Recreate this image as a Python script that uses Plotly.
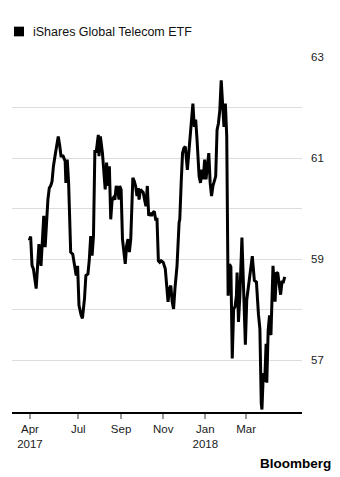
import plotly.graph_objects as go

series_name = "iShares Global Telecom ETF"

dates = [
    "2017-04-21", "2017-04-23", "2017-04-25", "2017-04-27", "2017-05-01", "2017-05-04",
    "2017-05-05", "2017-05-08", "2017-05-10", "2017-05-12", "2017-05-14", "2017-05-16",
    "2017-05-18", "2017-05-20", "2017-05-22", "2017-05-24", "2017-05-26", "2017-05-29",
    "2017-06-02", "2017-06-04", "2017-06-06", "2017-06-09", "2017-06-12", "2017-06-13",
    "2017-06-15", "2017-06-17", "2017-06-20", "2017-06-23", "2017-06-25", "2017-06-28",
    "2017-06-30", "2017-07-02", "2017-07-05", "2017-07-07", "2017-07-10", "2017-07-12",
    "2017-07-15", "2017-07-17", "2017-07-19", "2017-07-21", "2017-07-23", "2017-07-25",
    "2017-07-27", "2017-07-30", "2017-07-31", "2017-08-02", "2017-08-05", "2017-08-09",
    "2017-08-11", "2017-08-13", "2017-08-15", "2017-08-17", "2017-08-19", "2017-08-21",
    "2017-08-23", "2017-08-25", "2017-08-27", "2017-08-29", "2017-08-30", "2017-09-01",
    "2017-09-03", "2017-09-05", "2017-09-07", "2017-09-09", "2017-09-11", "2017-09-13",
    "2017-09-15", "2017-09-18", "2017-09-20", "2017-09-22", "2017-09-24", "2017-09-26",
    "2017-09-27", "2017-09-29", "2017-10-01", "2017-10-03", "2017-10-05", "2017-10-07",
    "2017-10-09", "2017-10-11", "2017-10-13", "2017-10-15", "2017-10-17", "2017-10-19",
    "2017-10-21", "2017-10-23", "2017-10-25", "2017-10-27", "2017-10-29", "2017-11-01",
    "2017-11-04", "2017-11-06", "2017-11-08", "2017-11-10", "2017-11-12", "2017-11-14",
    "2017-11-16", "2017-11-18", "2017-11-20", "2017-11-21", "2017-11-24", "2017-11-25",
    "2017-11-27", "2017-11-29", "2017-12-01", "2017-12-03", "2017-12-06", "2017-12-09",
    "2017-12-11", "2017-12-14", "2017-12-16", "2017-12-18", "2017-12-20", "2017-12-21",
    "2017-12-23", "2017-12-25", "2017-12-27", "2017-12-29", "2017-12-31", "2018-01-02",
    "2018-01-04", "2018-01-06", "2018-01-08", "2018-01-10", "2018-01-12", "2018-01-14",
    "2018-01-16", "2018-01-18", "2018-01-20", "2018-01-22", "2018-01-24", "2018-01-26",
    "2018-01-28", "2018-01-30", "2018-02-01", "2018-02-03", "2018-02-05", "2018-02-07",
    "2018-02-09", "2018-02-11", "2018-02-13", "2018-02-15", "2018-02-16", "2018-02-18",
    "2018-02-20", "2018-02-23", "2018-02-25", "2018-02-28", "2018-03-02", "2018-03-05",
    "2018-03-08", "2018-03-10", "2018-03-13", "2018-03-16", "2018-03-19", "2018-03-21",
    "2018-03-23", "2018-03-24", "2018-03-26", "2018-03-28", "2018-03-30", "2018-03-31",
    "2018-04-02", "2018-04-04", "2018-04-06", "2018-04-08", "2018-04-09", "2018-04-11",
    "2018-04-12", "2018-04-14", "2018-04-16", "2018-04-18", "2018-04-20", "2018-04-22",
    "2018-04-24", "2018-04-26",
]

prices = [
    59.37, 59.45, 58.88, 58.81, 58.42, 59.27,
    59.30, 58.87, 59.33, 59.86, 59.24, 59.86,
    60.18, 60.41, 60.45, 60.54, 60.84, 61.10,
    61.43, 61.26, 61.04, 61.04, 60.94, 60.51,
    60.97, 60.51, 59.14, 59.10, 58.94, 58.68,
    58.87, 58.09, 57.90, 57.83, 58.22, 58.68,
    58.71, 59.00, 59.46, 59.07, 59.46, 61.13,
    61.13, 61.46, 61.04, 61.43, 61.10, 60.38,
    60.91, 60.45, 60.84, 59.79, 60.18, 60.22,
    60.18, 60.45, 60.38, 60.18, 60.45, 60.38,
    59.40, 59.14, 58.91, 59.27, 59.40, 59.14,
    59.40, 60.61, 60.55, 60.45, 60.25, 60.41,
    60.18, 60.38, 60.35, 60.32, 60.18, 60.05,
    60.45, 59.86, 59.92, 59.86, 59.92, 59.95,
    59.79, 59.79, 58.97, 58.94, 58.97, 58.94,
    58.81, 58.48, 58.16, 58.42, 58.48, 58.16,
    58.02, 58.42, 58.81, 58.87, 59.73, 59.79,
    60.51, 61.10, 61.20, 61.23, 60.77, 61.25,
    61.55, 62.08, 61.62, 61.76, 61.36, 61.10,
    60.64, 60.51, 60.77, 60.58, 60.97, 60.58,
    60.84, 61.10, 60.51, 60.25, 60.45, 60.58,
    60.64, 61.56, 61.69, 61.95, 62.54, 62.08,
    61.62, 62.08, 61.43, 58.28, 58.90, 58.85,
    57.04, 58.02, 58.06, 58.28, 58.74, 57.76,
    58.28, 59.43, 58.35, 57.31, 58.20, 58.50,
    58.90, 59.06, 58.58, 58.55, 57.90, 57.63,
    56.15, 56.03, 56.75, 56.58, 57.33, 56.56,
    57.60, 57.89, 57.50, 58.60, 58.87, 58.40,
    58.16, 58.74, 58.72, 58.50, 58.30, 58.55,
    58.55, 58.65,
]

x_tick_vals = ["2017-04-22", "2017-07-01", "2017-09-01", "2017-11-01", "2018-01-01", "2018-03-01"]
x_tick_text = ["Apr<br>2017", "Jul", "Sep", "Nov", "Jan<br>2018", "Mar"]
y_tick_vals = [57, 58, 59, 60, 61, 62, 63]
y_tick_text = ["57", "", "59", "", "61", "", "63"]
x_range = ["2017-03-27", "2018-05-21"]
y_range = [55.98, 63.0]

FONT = "Liberation Sans, Arial, Helvetica, sans-serif"

fig = go.Figure()
fig.add_trace(go.Scatter(
    x=dates, y=prices, mode="lines", name=series_name,
    line=dict(color="#000000", width=3),
    hoverinfo="x+y",
))

# plot area geometry (pixels) used to place the legend and credit
L, R, T, B = 12, 38, 56.7, 64.7
W, H = 340, 477
pw, ph = W - L - R, H - T - B

def px_x(px):
    return (px - L) / pw

def px_y(py):
    return (H - B - py) / ph

fig.add_shape(type="rect", xref="paper", yref="paper",
              x0=px_x(14), x1=px_x(24), y0=px_y(36), y1=px_y(26.3),
              fillcolor="#000000", line=dict(width=0))
fig.add_annotation(xref="paper", yref="paper", x=px_x(31), y=px_y(31.5),
                   xanchor="left", yanchor="middle", showarrow=False,
                   text=series_name, font=dict(family=FONT, size=12.5, color="#111111"))
fig.add_annotation(xref="paper", yref="paper", x=px_x(333), y=px_y(464),
                   xanchor="right", yanchor="middle", showarrow=False,
                   text="<b>Bloomberg</b>", font=dict(family=FONT, size=13.5, color="#000000"))

fig.update_layout(
    width=W, height=H,
    margin=dict(l=L, r=R, t=T, b=B, pad=0),
    paper_bgcolor="white", plot_bgcolor="white",
    showlegend=False,
    font=dict(family=FONT, size=11.5, color="#1a1a1a"),
    xaxis=dict(
        type="date", range=x_range,
        tickmode="array", tickvals=x_tick_vals, ticktext=x_tick_text,
        showgrid=False, zeroline=False,
        showline=True, linecolor="#000000", linewidth=1.5,
        ticks="outside", ticklen=5, tickwidth=1.5, tickcolor="#999999",
        tickfont=dict(family=FONT, size=11.5, color="#1a1a1a"),
    ),
    yaxis=dict(
        side="right", range=y_range,
        tickmode="array", tickvals=y_tick_vals, ticktext=y_tick_text,
        showgrid=True, gridcolor="#dddddd", gridwidth=1,
        zeroline=False, showline=False, ticks="",
        ticklabelstandoff=8,
        tickfont=dict(family=FONT, size=11.5, color="#1a1a1a"),
    ),
)

fig.write_html("out.html")
